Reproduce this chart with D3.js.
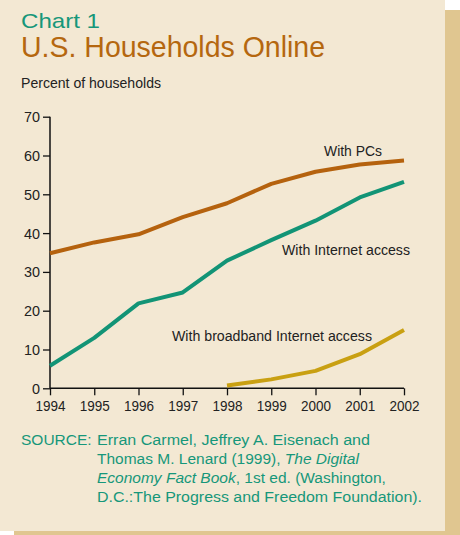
<!DOCTYPE html>
<html><head><meta charset="utf-8">
<script src="https://cdn.jsdelivr.net/npm/d3@7"></script>
<style>body{margin:0;background:#fff}svg{display:block}</style>
</head><body>
<svg id="c" width="460" height="535"></svg>
<script>
const years = [1994,1995,1996,1997,1998,1999,2000,2001,2002];
const pcValues = [34.8,37.6,39.7,44.1,47.7,52.7,55.8,57.7,58.7];
const internetValues = [5.8,13.0,21.9,24.7,32.9,38.2,43.2,49.2,53.2];
const broadbandYears = [1998,1999,2000,2001,2002];
const broadbandValues = [0.7,2.3,4.5,8.8,15.0];
const yTicks = [0,10,20,30,40,50,60,70];
const seriesLabels = ["With PCs","With Internet access","With broadband Internet access"];

const svg = d3.select("#c");
svg.append("rect").attr("x",14).attr("y",10).attr("width",446).attr("height",525).attr("fill","#E0C690");
svg.append("rect").attr("x",0).attr("y",0).attr("width",445).attr("height",531).attr("fill","#F3E8D3");

const sans = "'Liberation Sans',Arial,sans-serif";
const fit = (sel,len)=>sel.attr("textLength",len).attr("lengthAdjust","spacingAndGlyphs");
fit(svg.append("text").attr("x",21).attr("y",28).attr("fill","#16977A")
  .style("font-family",sans).style("font-size","21px").text("Chart 1"),79);
fit(svg.append("text").attr("x",21).attr("y",57).attr("fill","#B5670F")
  .style("font-family",sans).style("font-size","30px").text("U.S. Households Online"),304);
fit(svg.append("text").attr("x",21).attr("y",88).attr("fill","#222")
  .style("font-family",sans).style("font-size","15px").text("Percent of households"),140);

const x = d3.scaleLinear().domain([1994,2002]).range([50,404]);
const y = d3.scaleLinear().domain([0,70]).range([388.3,116.7]);

const ya = svg.append("g").attr("transform","translate(50,0)")
  .call(d3.axisLeft(y).tickValues(yTicks).tickSize(7).tickPadding(3).tickFormat(d3.format("d")));
const xa = svg.append("g").attr("transform","translate(0,388.3)")
  .call(d3.axisBottom(x).tickValues(years).tickSize(7).tickPadding(5).tickFormat(d3.format("d")));
[ya,xa].forEach(a=>{
  a.select(".domain").attr("stroke","#111").attr("stroke-width",1.5);
  a.selectAll(".tick line").attr("stroke","#111").attr("stroke-width",1.3);
  a.selectAll("text").attr("fill","#222").style("font-family",sans).style("font-size","15.5px")
    .attr("lengthAdjust","spacingAndGlyphs");
});
ya.selectAll(".tick text").attr("textLength",d=>d===0?8:16);
xa.selectAll(".tick text").attr("textLength",30);
ya.select(".domain").attr("d","M0,116.7V388.3");
xa.select(".domain").attr("d","M50,0H404");

const line = d3.line().x(d=>x(d[0])).y(d=>y(d[1]));
const drawLine = (xs,vs,col)=>svg.append("path").datum(xs.map((v,i)=>[v,vs[i]]))
  .attr("d",line).attr("fill","none").attr("stroke",col).attr("stroke-width",4).attr("stroke-linejoin","round");
drawLine(years,pcValues,"#B5620E");
drawLine(years,internetValues,"#129476");
drawLine(broadbandYears,broadbandValues,"#C9A012");

const lab = (t,xx,yy,len)=>fit(svg.append("text").attr("x",xx).attr("y",yy).attr("fill","#222")
  .style("font-family",sans).style("font-size","15.5px").text(t),len);
lab(seriesLabels[0],324,156,58);
lab(seriesLabels[1],282,255,128);
lab(seriesLabels[2],172,341,200);

const src = svg.append("g").attr("fill","#16977A").style("font-family",sans).style("font-size","15.5px");
src.append("text").attr("x",21).attr("y",445).text("SOURCE:");
fit(src.append("text").attr("x",97).attr("y",445).text("Erran Carmel, Jeffrey A. Eisenach and"),273);
const l2 = src.append("text").attr("x",97).attr("y",464);
l2.append("tspan").text("Thomas M. Lenard (1999), ");
l2.append("tspan").style("font-style","italic").text("The Digital");
const l3 = src.append("text").attr("x",97).attr("y",483);
l3.append("tspan").style("font-style","italic").text("Economy Fact Book");
l3.append("tspan").text(", 1st ed. (Washington,");
fit(src.append("text").attr("x",97).attr("y",502).text("D.C.:The Progress and Freedom Foundation)."),325);
</script>
</body></html>
